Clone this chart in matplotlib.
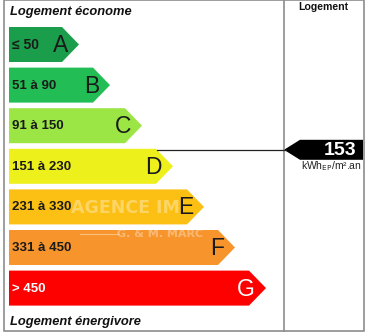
import matplotlib
matplotlib.use("Agg")
import matplotlib.pyplot as plt
from matplotlib.patches import Polygon, Rectangle

# DPE classes
classes = ["A", "B", "C", "D", "E", "F", "G"]
ranges = ["≤ 50", "51 à 90", "91 à 150", "151 à 230", "231 à 330", "331 à 450", "> 450"]
colors = ["#1b9e4b", "#22be55", "#9be544", "#eef01c", "#fcbf14", "#f7952c", "#fd0000"]
bar_ends = [79, 110, 142, 173, 204, 235, 266]  # tip x of each arrow (px)
value = 153
value_class = 3  # D

W, H = 368, 336
fig = plt.figure(figsize=(W / 100, H / 100), dpi=100)
ax = fig.add_axes([0, 0, 1, 1])
ax.set_xlim(0, W)
ax.set_ylim(H, 0)
ax.axis("off")

# frame
ax.add_patch(Rectangle((3.5, 0), 360, 330.5, fill=False, ec="#8c8c8c", lw=1.2))
ax.plot([283.5, 283.5], [0, 330.5], color="#8c8c8c", lw=1.2)

x0 = 9
top = 27
step = 40.6
h = 35
tip = 17
for i, c in enumerate(classes):
    y = top + i * step
    xe = bar_ends[i]
    pts = [(x0, y), (xe - tip, y), (xe, y + h / 2), (xe - tip, y + h), (x0, y + h)]
    ax.add_patch(Polygon(pts, closed=True, fc=colors[i], ec="none"))
    tcol = "white" if c == "G" else "#1a1a1a"
    fs = 10 if c == "A" else 9.5
    ax.text(x0 + 3.5, y + h / 2 + 0.5, ranges[i], ha="left", va="center",
            fontsize=fs, fontweight="bold", color=tcol, family="Liberation Sans")
    ax.text(xe - 11, y + h / 2 + 1, c, ha="right", va="center",
            fontsize=16.5, color=tcol, family="Liberation Sans")

# watermark
ax.text(125, 208, "AGENCE IM", ha="center", va="center", fontsize=12.5,
        fontweight="bold", color="white", alpha=0.35, family="Liberation Sans Narrow")
ax.plot([80, 118], [234, 234], color="white", alpha=0.4, lw=0.8)
ax.text(160, 234, "G. & M. MARC", ha="center", va="center", fontsize=8,
        fontweight="bold", color="white", alpha=0.35, family="Liberation Sans Narrow")

# headings
ax.text(9.5, 12, "Logement économe", ha="left", va="center", fontsize=9.3,
        fontweight="bold", style="italic", color="#111111", family="Liberation Sans")
ax.text(9.5, 322, "Logement énergivore", ha="left", va="center", fontsize=9.3,
        fontweight="bold", style="italic", color="#111111", family="Liberation Sans")
ax.text(323, 7.5, "Logement", ha="center", va="center", fontsize=7.6,
        fontweight="bold", color="#111111", family="Liberation Sans")

# value indicator, tip at the top edge of the class bar
yv = top + value_class * step + 1
ax.plot([157, 286], [yv, yv], color="#222222", lw=0.9)
ax.add_patch(Polygon([(284, yv), (300, yv - 10), (363, yv - 10), (363, yv + 10), (300, yv + 10)],
                     closed=True, fc="black", ec="none"))
ax.text(340, yv + 0.5, str(value), ha="center", va="center", fontsize=14,
        fontweight="bold", color="white", family="Liberation Sans")
ax.text(331, yv + 16, "kWh$_{\\mathrm{EP}}$/m².an", ha="center", va="center", fontsize=7.5,
        color="#222222", family="Liberation Sans")

fig.savefig("out.png", dpi=100, facecolor="white")
